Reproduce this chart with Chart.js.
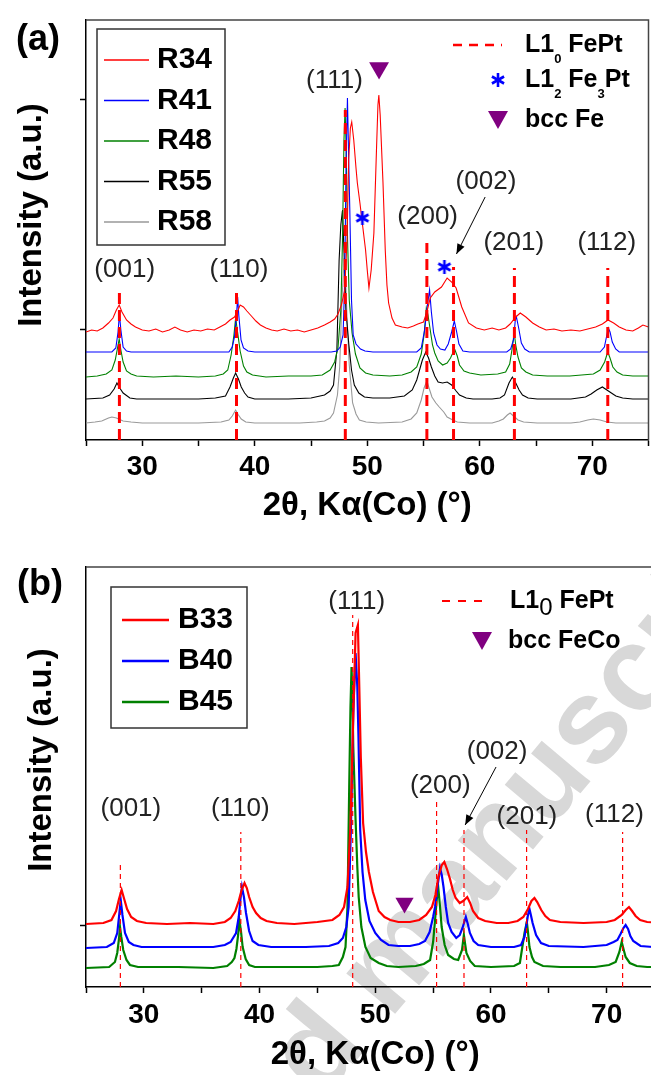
<!DOCTYPE html>
<html>
<head>
<meta charset="utf-8">
<script src="https://cdn.jsdelivr.net/npm/chart.js@4.4.0/dist/chart.umd.min.js"></script>
<style>
  html, body { margin: 0; padding: 0; background: #fff; overflow: hidden; width: 651px; height: 1075px; }
  #wrap { position: relative; width: 651px; height: 1075px; overflow: hidden; }
  .wm { position: absolute; left: -57px; top: 1394px; font: bold 120px Arial, 'Liberation Sans', sans-serif;
        color: #d8d8d8; white-space: nowrap; line-height: 1; transform: rotate(-50deg); transform-origin: 0 0; z-index: 0; }
  canvas { position: absolute; left: 0; z-index: 1; }
  #cA { top: 0; }
  #cB { top: 540px; }
</style>
</head>
<body>
<div id="wrap">
  <div class="wm">Accepted manuscript</div>
  <canvas id="cA" width="660" height="540"></canvas>
  <canvas id="cB" width="675" height="545"></canvas>
</div>
<script>
const FONT = "Arial, 'Liberation Sans', sans-serif";

// ---- data (2theta in degrees, intensity in a.u. with offsets as plotted) ----
const xTickLabels = [30, 40, 50, 60, 70];
const yTicksA = [111, 341];
const yTicksB = [62];

const hklLabels = ['(001)', '(110)', '(111)', '(200)', '(002)', '(201)', '(112)'];
const fePtPeaks = [27.97, 38.38, 48.05, 55.3, 57.67, 63.08, 71.38];
const dashTopA = [153, 150, 330, 197, 173, 172, 172];
const dashTopB = [125, 155, 372, 187, 157, 157, 155];

const namesA = ['R34', 'R41', 'R48', 'R55', 'R58'];
const colorsA = ['#ff0000', '#0000ff', '#008000', '#000000', '#999999'];

const R34 = [[25,108],[25.5,110],[26,109],[26.5,112],[27,117],[27.4,122],[27.7,130],[27.95,135],[28.2,128],[28.6,120],[29,116],[29.4,113],[30,110],[30.6,109],[31.2,111],[31.8,108],[32.4,110],[32.9,113],[33.4,110],[34,108],[34.6,110],[35.2,109],[35.8,111],[36.4,110],[36.9,113],[37.4,116],[37.8,120],[38.2,123],[38.45,128],[38.7,135],[39,133],[39.3,129],[39.7,124],[40.1,119],[40.5,115],[41,112],[41.5,110],[42,109],[42.6,111],[43.2,109],[43.8,110],[44.4,108],[45,110],[45.6,112],[46.2,115],[46.7,118],[47.1,121],[47.4,126],[47.7,135],[48,150],[48.2,200],[48.35,280],[48.5,312],[48.62,318],[48.8,300],[49,272],[49.12,257],[49.35,237],[49.56,217],[49.85,190],[50,170],[50.15,152],[50.35,170],[50.59,207],[50.82,290],[50.95,335],[51.03,345],[51.15,325],[51.4,257],[51.6,190],[51.75,155],[51.9,137],[52.2,122],[52.5,115],[53.1,113],[53.6,112],[54.1,114],[54.5,116],[55,118],[55.3,128],[55.6,142],[56,148],[56.6,153],[57.1,162],[57.5,158],[57.9,152],[58.4,133],[59,117],[59.7,112],[60.4,110],[61.1,112],[61.7,110],[62.3,112],[62.7,116],[63.2,123],[63.6,127],[64.1,123],[64.7,117],[65.3,113],[65.9,110],[66.6,111],[67.3,109],[68.1,110],[68.9,109],[69.6,111],[70.3,113],[70.9,116],[71.4,120],[71.9,117],[72.4,113],[73,110],[73.6,109],[74.1,112],[74.5,115],[75,113]];
const R41 = [[25,88],[27.3,88],[27.65,92],[27.85,108],[27.97,126],[28.1,110],[28.3,93],[28.6,89],[29,88],[37.7,88],[38,93],[38.2,103],[38.38,125],[38.48,143],[38.58,125],[38.78,100],[39,92],[39.4,89],[40,88],[46.8,88],[47.3,89],[47.6,93],[47.85,105],[48,160],[48.12,280],[48.24,342],[48.35,280],[48.45,230],[48.6,140],[48.75,105],[49,96],[49.4,91],[49.8,89],[50.5,88],[54.4,88],[54.8,92],[55.1,110],[55.35,135],[55.54,150],[55.7,128],[55.9,107],[56.2,95],[56.5,91],[56.9,90],[57.2,96],[57.5,108],[57.74,119],[57.95,108],[58.15,96],[58.5,89],[59.1,88],[62.4,88],[62.75,91],[63,100],[63.16,120],[63.26,123],[63.46,112],[63.7,97],[64,91],[64.4,88],[70.7,88],[71.08,93],[71.28,104],[71.43,112],[71.58,108],[71.78,98],[72.08,91],[72.4,88],[75,88]];
const R48 = [[25,63],[26,64],[26.8,66],[27.3,70],[27.6,80],[27.8,92],[27.95,101],[28.1,90],[28.3,78],[28.6,69],[29,66],[29.5,64],[31,63],[33,64],[35,63],[36.5,64],[37.2,66],[37.6,70],[37.9,85],[38.15,105],[38.3,122],[38.45,110],[38.7,89],[39,74],[39.3,68],[39.8,65],[41,63],[43,64],[45,64],[46,65],[46.7,70],[47.1,78],[47.4,92],[47.65,130],[47.8,200],[47.93,300],[48.03,332],[48.13,290],[48.25,200],[48.4,140],[48.65,107],[48.95,86],[49.35,72],[49.85,67],[50.5,65],[52,64],[53.1,65],[53.9,68],[54.4,73],[54.8,86],[55.05,105],[55.25,132],[55.4,125],[55.6,110],[55.8,95],[56,87],[56.3,79],[56.7,75],[57.1,77],[57.4,82],[57.64,88],[57.8,90],[58,84],[58.2,75],[58.6,69],[59.1,67],[60.1,65],[61.6,66],[62.3,68],[62.66,76],[62.86,90],[63.06,107],[63.2,95],[63.4,83],[63.7,72],[64.1,68],[64.7,65],[66,64],[68,64],[70.1,66],[70.7,70],[71.1,78],[71.38,88],[71.58,82],[71.83,73],[72.2,68],[72.7,65],[73.6,64],[75,64]];
const R55 = [[25,41],[26.5,42],[27.1,45],[27.5,51],[27.75,57],[28,52],[28.3,47],[28.9,42],[29.5,41],[32,41],[35,41],[36.5,42],[37.4,44],[37.8,53],[38.1,62],[38.3,67],[38.55,61],[38.8,53],[39.1,47],[39.4,43],[40,41],[43,41],[45,42],[46.2,45],[46.7,49],[47,55],[47.3,90],[47.5,180],[47.65,215],[47.8,230],[47.93,190],[48.1,130],[48.35,97],[48.6,70],[48.85,55],[49.25,47],[49.75,43],[50.5,42],[52,42],[53.3,44],[54,50],[54.4,60],[54.9,80],[55.2,88],[55.45,82],[55.7,73],[56,64],[56.3,58],[56.7,57],[57.1,58],[57.5,55],[57.9,49],[58.2,45],[58.8,42],[59.4,41],[61.1,41],[61.8,42],[62.2,45],[62.6,57],[62.9,63],[63.2,57],[63.5,50],[63.8,45],[64.3,42],[65.1,41],[68.1,41],[69.4,43],[69.9,46],[70.4,50],[70.9,53],[71.3,50],[71.7,47],[72.1,44],[72.7,42],[73.6,41],[75,41]];
const R58 = [[25,17],[25.8,18],[26.4,19],[27,22],[27.3,23],[27.7,22],[28.3,19],[29,18],[30,17],[35,17],[37,18],[37.7,20],[38,24],[38.3,30],[38.55,25],[38.8,21],[39.2,18],[40,17],[44,17],[45.5,18],[46.2,19],[46.7,22],[47,27],[47.35,45],[47.55,73],[47.75,140],[47.95,182],[48.08,160],[48.2,123],[48.4,75],[48.7,37],[49,26],[49.3,20],[49.9,18],[51,17],[53.1,18],[53.9,21],[54.4,27],[54.8,40],[55.05,52],[55.3,59],[55.55,50],[55.75,43],[56.1,37],[56.4,33],[56.8,28],[57.1,23],[57.6,20],[58,18],[59.1,17],[61.1,17],[61.7,19],[62.1,21],[62.45,25],[62.7,27],[63,24],[63.4,20],[63.9,18],[65.1,17],[68.1,17],[68.9,18],[69.6,20],[70.1,21],[70.7,20],[71.3,18],[72.1,17],[75,17]];

const namesB = ['B33', 'B40', 'B45'];
const colorsB = ['#ff0000', '#0000ff', '#008000'];

const B33 = [[25,63],[26.5,64],[27.2,67],[27.6,76],[27.85,88],[28.08,97],[28.3,88],[28.55,78],[28.9,70],[29.4,66],[30.2,64],[32,63],[34,64],[36,63],[37,65],[37.5,69],[37.9,76],[38.2,86],[38.45,97],[38.7,104],[38.9,99],[39.1,90],[39.4,80],[39.7,74],[40.1,69],[40.6,66],[41.5,64],[43,63],[45,65],[46.3,67],[46.9,72],[47.3,80],[47.6,100],[47.85,160],[48.05,250],[48.3,354],[48.5,362],[48.62,300],[48.75,230],[48.95,164],[49.2,135],[49.45,115],[49.8,95],[50.3,76],[50.8,70],[51.3,67],[52,65],[53,65],[53.8,67],[54.4,72],[54.9,80],[55.2,92],[55.45,110],[55.75,122],[55.97,125],[56.2,118],[56.46,108],[56.7,97],[56.95,89],[57.3,84],[57.6,86],[57.95,90],[58.2,84],[58.45,76],[58.9,69],[59.5,66],[60.5,64],[61.5,64],[62.3,66],[62.8,70],[63.2,78],[63.5,86],[63.76,89],[64,85],[64.35,77],[64.7,71],[65.1,67],[66,65],[68,64],[70,65],[70.7,67],[71.3,72],[71.65,77],[71.93,80],[72.2,76],[72.5,71],[72.9,67],[73.5,65],[75,64]];
const B40 = [[25,39],[26.8,40],[27.4,44],[27.7,54],[27.85,70],[28,87],[28.15,72],[28.37,54],[28.7,45],[29.1,42],[29.8,40],[33,40],[36,40],[37,42],[37.5,45],[37.97,54],[38.2,70],[38.35,88],[38.48,100],[38.65,90],[38.83,74],[39.1,56],[39.4,46],[39.9,42],[41,40],[44,40],[46,41],[46.8,44],[47.2,49],[47.5,60],[47.7,80],[47.9,160],[48.1,274],[48.3,334],[48.45,300],[48.55,250],[48.7,157],[48.9,115],[49.14,87],[49.5,66],[50,54],[50.5,47],[51.15,42],[52,41],[53,41],[53.8,43],[54.3,46],[54.7,55],[55,70],[55.17,80],[55.4,102],[55.6,119],[55.75,112],[55.9,100],[56.1,80],[56.3,64],[56.6,55],[57,49],[57.3,52],[57.54,59],[57.83,70],[58,63],[58.18,54],[58.5,46],[58.9,42],[60,40],[62,40],[62.6,42],[62.9,50],[63.04,60],[63.2,72],[63.33,78],[63.45,72],[63.6,64],[63.9,52],[64.33,44],[65,41],[68,40],[70,42],[70.6,45],[70.93,47],[71.2,53],[71.45,59],[71.64,62],[71.85,58],[72.05,51],[72.3,46],[72.93,41],[74,40],[75,40]];
const B45 = [[25,19],[27,20],[27.5,25],[27.7,34],[27.85,48],[27.94,60],[28.05,50],[28.22,37],[28.5,27],[28.8,22],[29.5,20],[33,20],[36,19],[37.2,21],[37.6,25],[37.83,29],[38,38],[38.15,52],[38.26,67],[38.4,55],[38.54,40],[38.8,28],[39.1,22],[39.6,20],[42,20],[45,20],[46.3,21],[46.85,22],[47.2,30],[47.43,40],[47.6,80],[47.75,200],[47.86,280],[47.95,320],[48.03,290],[48.1,240],[48.3,167],[48.45,120],[48.57,90],[48.8,60],[49.15,40],[49.6,29],[50.3,24],[51,21],[52,20],[53.5,21],[54.2,23],[54.74,27],[55,45],[55.17,67],[55.32,88],[55.45,99],[55.6,80],[55.74,60],[56,42],[56.3,32],[56.8,28],[57.17,27],[57.5,37],[57.66,52],[57.78,42],[57.88,34],[58.2,26],[58.6,21],[60,20],[62,21],[62.5,24],[62.9,54],[63.1,65],[63.2,55],[63.33,40],[63.55,30],[63.76,25],[64.5,21],[66,20],[69,20],[70.2,22],[70.78,25],[71.1,35],[71.3,45],[71.5,36],[71.64,30],[72,24],[72.6,21],[73.5,20],[75,20]];

// phase markers (2theta, intensity)
const fe3PtStarsA = [[49.57, 222], [56.86, 173]];
const bccFeA = [[51.05, 372]];
const bccFeCoB = [[52.53, 84]];

// ---- helpers ----
const pts = arr => arr.map(([x, y]) => ({ x, y }));

function starCanvas() {
  const c = document.createElement('canvas');
  c.width = c.height = 18;
  const g = c.getContext('2d');
  g.strokeStyle = '#0000ff';
  g.lineWidth = 2.6;
  g.translate(9, 9);
  for (let k = 0; k < 3; k++) {
    const a = Math.PI / 2 + k * Math.PI / 3;
    g.beginPath();
    g.moveTo(Math.cos(a) * 7, Math.sin(a) * 7);
    g.lineTo(-Math.cos(a) * 7, -Math.sin(a) * 7);
    g.stroke();
  }
  return c;
}
const STAR = starCanvas();

function downTri(ctx, x, y, w, h, color) {
  ctx.fillStyle = color;
  ctx.beginPath();
  ctx.moveTo(x - w / 2, y - h / 2);
  ctx.lineTo(x + w / 2, y - h / 2);
  ctx.lineTo(x, y + h / 2);
  ctx.closePath();
  ctx.fill();
}

// parts: [text, size, weight, dy]
function richText(ctx, parts, x, y) {
  ctx.textAlign = 'left';
  ctx.textBaseline = 'middle';
  ctx.fillStyle = '#000';
  let cx = x;
  parts.forEach(([t, size, weight, dy]) => {
    ctx.font = `${weight} ${size}px ${FONT}`;
    ctx.fillText(t, cx, y + dy);
    cx += ctx.measureText(t).width;
  });
}

const annoPlugin = {
  id: 'anno',
  afterDraw(chart, args, o) {
    const { ctx, chartArea: ca, scales: { x, y } } = chart;
    const px = v => x.getPixelForValue(v), py = v => y.getPixelForValue(v);
    ctx.save();

    // frame (top + right)
    ctx.strokeStyle = '#444';
    ctx.lineWidth = 1.5;
    ctx.beginPath();
    ctx.moveTo(ca.left, ca.top);
    ctx.lineTo(ca.right, ca.top);
    ctx.lineTo(ca.right, ca.bottom);
    ctx.stroke();

    // panel letter + y title
    ctx.fillStyle = '#000';
    ctx.textAlign = 'center';
    ctx.textBaseline = 'middle';
    ctx.font = `bold 36px ${FONT}`;
    ctx.fillText(o.panel, o.panelXY[0], o.panelXY[1]);
    ctx.save();
    ctx.translate(o.yTitleXY[0], o.yTitleXY[1]);
    ctx.rotate(-Math.PI / 2);
    ctx.font = `bold 33px ${FONT}`;
    ctx.fillText('Intensity (a.u.)', 0, 0);
    ctx.restore();

    // hkl labels
    ctx.font = `26px ${FONT}`;
    ctx.fillStyle = '#222';
    hklLabels.forEach((t, i) => ctx.fillText(t, px(o.hkl[i][0]), py(o.hkl[i][1])));

    // arrow to (002)
    const [a0, a1] = o.arrow;
    const x0 = px(a0[0]), y0 = py(a0[1]), x1 = px(a1[0]), y1 = py(a1[1]);
    const ang = Math.atan2(y1 - y0, x1 - x0);
    ctx.strokeStyle = '#000';
    ctx.lineWidth = 1;
    ctx.beginPath(); ctx.moveTo(x0, y0); ctx.lineTo(x1, y1); ctx.stroke();
    ctx.fillStyle = '#000';
    ctx.beginPath();
    ctx.moveTo(x1, y1);
    ctx.lineTo(x1 - 10 * Math.cos(ang) + 4 * Math.sin(ang), y1 - 10 * Math.sin(ang) - 4 * Math.cos(ang));
    ctx.lineTo(x1 - 10 * Math.cos(ang) - 4 * Math.sin(ang), y1 - 10 * Math.sin(ang) + 4 * Math.cos(ang));
    ctx.closePath(); ctx.fill();

    // sample legend (boxed)
    const L = o.legend;
    ctx.strokeStyle = '#333';
    ctx.lineWidth = 1.5;
    ctx.strokeRect(ca.left + L.box[0], ca.top + L.box[1], L.box[2], L.box[3]);
    L.names.forEach((n, i) => {
      const yy = ca.top + L.row0 + i * L.step;
      ctx.strokeStyle = L.colors[i];
      ctx.lineWidth = L.lw;
      ctx.beginPath();
      ctx.moveTo(ca.left + L.line[0], yy);
      ctx.lineTo(ca.left + L.line[1], yy);
      ctx.stroke();
      richText(ctx, [[n, 30, 'bold', 0]], ca.left + L.textX, yy);
    });

    // phase legend
    const P = o.phase;
    ctx.strokeStyle = '#ff0000';
    ctx.lineWidth = P.dashW;
    ctx.setLineDash(P.dash);
    ctx.beginPath();
    ctx.moveTo(P.dashX[0], P.rows[0]);
    ctx.lineTo(P.dashX[1], P.rows[0]);
    ctx.stroke();
    ctx.setLineDash([]);
    P.items.forEach((it, i) => {
      const yy = P.rows[i];
      if (it.sym === 'star') ctx.drawImage(STAR, P.symX - 9, yy - 9);
      if (it.sym === 'tri') downTri(ctx, P.symX, yy, 20, 18, '#800080');
      richText(ctx, it.parts, it.x, yy);
    });

    ctx.restore();
  }
};

function makeChart(id, c) {
  const curves = c.series.map((s, i) => ({
    label: c.names[i], data: pts(s), borderColor: c.colors[i], borderWidth: c.lw,
    pointRadius: 0, tension: 0, fill: false, order: 2 + i
  }));
  const refs = fePtPeaks.map((p, i) => ({
    label: hklLabels[i], data: [{ x: p, y: 0 }, { x: p, y: c.dashTop[i] }],
    borderColor: '#ff0000', borderWidth: c.dashW, borderDash: c.dash, borderCapStyle: 'butt',
    pointRadius: 0, fill: false, order: 1
  }));
  const marks = c.marks.map(m => ({
    label: m.label, data: pts(m.pts), showLine: false, pointStyle: m.style, rotation: m.rot || 0,
    pointRadius: m.r, backgroundColor: m.color, borderColor: m.color, borderWidth: 0, order: 0
  }));
  return new Chart(document.getElementById(id), {
    type: 'line',
    data: { datasets: [...curves, ...refs, ...marks] },
    plugins: [annoPlugin],
    options: {
      responsive: false, animation: false, events: [],
      layout: { padding: { left: 0, top: c.top, right: c.right, bottom: 0 } },
      plugins: { legend: { display: false }, tooltip: { enabled: false }, anno: c.anno },
      scales: {
        x: {
          type: 'linear', min: 25, max: 75,
          ticks: {
            stepSize: 5, autoSkip: false, maxRotation: 0, padding: c.tickPad, color: '#000',
            font: { family: FONT, size: 28, weight: 'bold' },
            callback: v => xTickLabels.includes(v) ? String(v) : ''
          },
          grid: { drawOnChartArea: false, tickLength: 6, tickColor: '#000', tickWidth: 1.5 },
          border: { display: true, color: '#000', width: 1.5 },
          title: {
            display: true, text: '2θ, Kα(Co) (°)', color: '#000',
            font: { family: FONT, size: 33, weight: 'bold' }, padding: { top: 0, bottom: c.titlePad }
          },
          afterFit: s => { s.height = c.xAxisH; }
        },
        y: {
          type: 'linear', min: 0, max: 420,
          ticks: { display: false },
          grid: { drawOnChartArea: false, tickLength: 6, tickColor: '#000', tickWidth: 1.5 },
          border: { display: true, color: '#000', width: 1.5 },
          afterBuildTicks: s => { s.ticks = c.yTicks.map(v => ({ value: v })); },
          afterFit: s => { s.width = 86; }
        }
      }
    }
  });
}

makeChart('cA', {
  series: [R34, R41, R48, R55, R58], names: namesA, colors: colorsA, lw: 1.1,
  dashTop: dashTopA, dashW: 3, dash: [11, 6],
  yTicks: yTicksA, top: 20, right: 6, xAxisH: 100, titlePad: 14, tickPad: 4,
  marks: [
    { label: 'L1\u2082 Fe\u2083Pt', pts: fe3PtStarsA, style: STAR, r: 8, color: '#0000ff' },
    { label: 'bcc Fe', pts: bccFeA, style: 'triangle', rot: 180, r: 11.5, color: '#800080' }
  ],
  anno: {
    panel: '(a)', panelXY: [38, 40], yTitleXY: [32, 215],
    hkl: [[28.44, 170], [38.6, 170], [47.09, 359], [55.37, 223], [60.55, 258], [63.02, 197], [71.29, 197]],
    arrow: [[60.48, 243], [57.93, 186]],
    legend: { box: [11, 9, 128, 216], line: [18, 63], row0: 40, step: 40.5, textX: 71, lw: 1.5, names: namesA, colors: colorsA },
    phase: {
      dashX: [453, 502], dash: [9, 7], dashW: 2.5, rows: [45, 80, 120], symX: 498,
      items: [
        { sym: null, x: 525, parts: [['L1', 25, 'bold', 0], ['0', 13, 'bold', 14], [' FePt', 25, 'bold', 0]] },
        { sym: 'star', x: 525, parts: [['L1', 25, 'bold', 0], ['2', 13, 'bold', 14], [' Fe', 25, 'bold', 0], ['3', 13, 'bold', 14], ['Pt', 25, 'bold', 0]] },
        { sym: 'tri', x: 525, parts: [['bcc Fe', 25, 'bold', 0]] }
      ]
    }
  }
});

makeChart('cB', {
  series: [B33, B40, B45], names: namesB, colors: colorsB, lw: 2.2,
  dashTop: dashTopB, dashW: 1.2, dash: [5, 4],
  yTicks: yTicksB, top: 27, right: 7, xAxisH: 98, titlePad: 10, tickPad: 5,
  marks: [
    { label: 'bcc FeCo', pts: bccFeCoB, style: 'triangle', rot: 180, r: 10.5, color: '#800080' }
  ],
  anno: {
    panel: '(b)', panelXY: [40, 45], yTitleXY: [42, 220],
    hkl: [[28.88, 178], [38.34, 178], [48.4, 385], [55.62, 201], [60.53, 235], [63.11, 170], [70.67, 172]],
    arrow: [[60.44, 220], [57.77, 162]],
    legend: { box: [25, 20, 136, 141], line: [36, 83], row0: 53, step: 41, textX: 92, lw: 2.5, names: namesB, colors: colorsB },
    phase: {
      dashX: [442, 488], dash: [8, 8], dashW: 2, rows: [61, 101], symX: 482,
      items: [
        { sym: null, x: 510, parts: [['L1', 25, 'bold', 0], ['0', 24, 'normal', 7], [' FePt', 25, 'bold', 0]] },
        { sym: 'tri', x: 508, parts: [['bcc FeCo', 25, 'bold', 0]] }
      ]
    }
  }
});
</script>
</body>
</html>
